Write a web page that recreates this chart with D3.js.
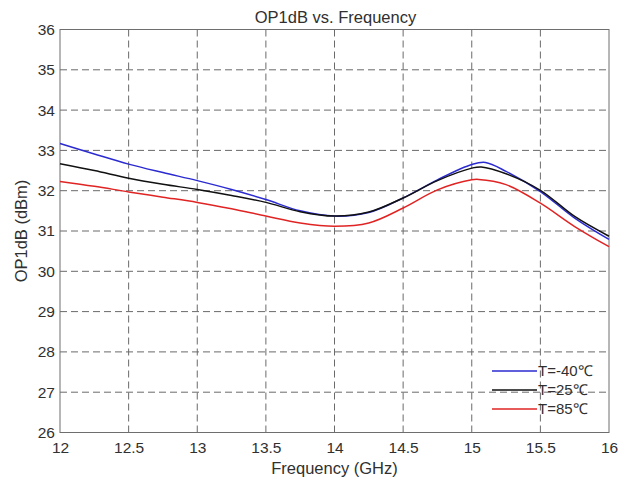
<!DOCTYPE html>
<html>
<head>
<meta charset="utf-8">
<script src="https://cdn.jsdelivr.net/npm/d3@7"></script>
<style>
  body { margin: 0; background: #fff; }
  text { font-family: "Liberation Sans", Arial, sans-serif; fill: #303030; }
</style>
</head>
<body>
<svg width="630" height="484"></svg>
<script>
(function() {
  // frequency points (GHz)
  let freqM40 = [12, 12.25, 12.5, 12.75, 13, 13.25, 13.5, 13.75, 14, 14.25, 14.5, 14.75, 15, 15.1, 15.25, 15.5, 15.75, 16];
  let opM40 = [33.17, 32.91, 32.66, 32.45, 32.25, 32.03, 31.78, 31.50, 31.37, 31.46, 31.82, 32.27, 32.65, 32.70, 32.48, 31.98, 31.32, 30.79];

  let freq25 = [12, 12.25, 12.5, 12.75, 13, 13.25, 13.5, 13.75, 14, 14.25, 14.5, 14.75, 15, 15.07, 15.25, 15.5, 15.75, 16];
  let op25 = [32.67, 32.50, 32.31, 32.16, 32.03, 31.88, 31.71, 31.48, 31.37, 31.47, 31.82, 32.25, 32.56, 32.59, 32.42, 32.01, 31.36, 30.87];

  let freq85 = [12, 12.25, 12.5, 12.75, 13, 13.25, 13.5, 13.75, 14, 14.25, 14.5, 14.75, 15, 15.05, 15.25, 15.5, 15.75, 16];
  let op85 = [32.23, 32.11, 31.97, 31.84, 31.71, 31.55, 31.37, 31.20, 31.12, 31.20, 31.57, 32.02, 32.27, 32.28, 32.15, 31.69, 31.11, 30.61];

  let seriesNames = ['T=-40℃', 'T=25℃', 'T=85℃'];
  let seriesColors = ['#2b2bd0', '#111111', '#e02424'];
  let xTicks = [12, 12.5, 13, 13.5, 14, 14.5, 15, 15.5, 16];
  let yTicks = [26, 27, 28, 29, 30, 31, 32, 33, 34, 35, 36];

  let svg = d3.select('svg');
  let left = 60, right = 609, top = 29.5, bottom = 432.5;

  let x = d3.scaleLinear().domain([12, 16]).range([left, right]);
  let y = d3.scaleLinear().domain([26, 36]).range([bottom, top]);

  // grid
  let grid = svg.append('g').attr('class', 'grid');
  grid.selectAll('line.v')
    .data(xTicks.slice(1, -1))
    .enter().append('line')
    .attr('x1', function(d) { return x(d); })
    .attr('x2', function(d) { return x(d); })
    .attr('y1', top).attr('y2', bottom)
    .attr('stroke', '#6a6a6a').attr('stroke-width', 1)
    .attr('stroke-dasharray', '7,4');
  grid.selectAll('line.h')
    .data(yTicks.slice(1, -1))
    .enter().append('line')
    .attr('y1', function(d) { return y(d); })
    .attr('y2', function(d) { return y(d); })
    .attr('x1', left).attr('x2', right)
    .attr('stroke', '#6a6a6a').attr('stroke-width', 1)
    .attr('stroke-dasharray', '7,4');

  // axes
  let xAxis = svg.append('g')
    .attr('transform', 'translate(0,' + bottom + ')')
    .call(d3.axisBottom(x).tickValues(xTicks).tickSize(0).tickPadding(9)
      .tickFormat(function(d) { return String(d); }));
  let yAxis = svg.append('g')
    .attr('transform', 'translate(' + left + ',0)')
    .call(d3.axisLeft(y).tickValues(yTicks).tickSize(0).tickPadding(5));
  [xAxis, yAxis].forEach(function(a) {
    a.select('.domain').remove();
    a.selectAll('text').attr('font-size', 15.5)
      .attr('font-family', '"Liberation Sans", Arial, sans-serif')
      .attr('fill', '#303030');
  });

  // frame
  svg.append('rect')
    .attr('x', left).attr('y', top)
    .attr('width', right - left).attr('height', bottom - top)
    .attr('fill', 'none').attr('stroke', '#6e6e6e').attr('stroke-width', 1);

  // curves
  let series = [
    { xs: freqM40, ys: opM40 },
    { xs: freq25, ys: op25 },
    { xs: freq85, ys: op85 }
  ];
  let line = d3.line()
    .x(function(d) { return x(d[0]); })
    .y(function(d) { return y(d[1]); })
    .curve(d3.curveCatmullRom.alpha(0.5));

  svg.append('g').selectAll('path')
    .data(series)
    .enter().append('path')
    .attr('d', function(s) { return line(d3.zip(s.xs, s.ys)); })
    .attr('fill', 'none')
    .attr('stroke', function(s, i) { return seriesColors[i]; })
    .attr('stroke-width', 1.5);

  // legend
  let legend = svg.append('g').selectAll('g')
    .data(seriesNames)
    .enter().append('g')
    .attr('transform', function(d, i) { return 'translate(492,' + (371 + i * 19) + ')'; });
  legend.append('line')
    .attr('x1', 0).attr('x2', 45)
    .attr('stroke', function(d, i) { return seriesColors[i]; })
    .attr('stroke-width', 1.5);
  legend.append('text')
    .attr('x', 46).attr('dy', '0.35em')
    .attr('font-size', 15)
    .text(function(d) { return d; });

  // titles
  svg.append('text')
    .attr('x', (left + right) / 2 + 1).attr('y', 23)
    .attr('text-anchor', 'middle').attr('font-size', 16.5)
    .text('OP1dB vs. Frequency');
  svg.append('text')
    .attr('x', (left + right) / 2).attr('y', 474)
    .attr('text-anchor', 'middle').attr('font-size', 16.5)
    .text('Frequency (GHz)');
  svg.append('text')
    .attr('transform', 'translate(27,' + ((top + bottom) / 2) + ') rotate(-90)')
    .attr('text-anchor', 'middle').attr('font-size', 16.5)
    .text('OP1dB (dBm)');
})();
</script>
</body>
</html>
